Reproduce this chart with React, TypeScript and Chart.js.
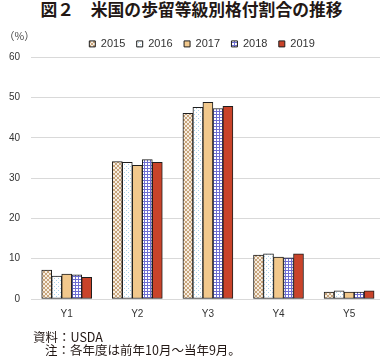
import React, { useEffect, useRef } from "react";
import { Chart, registerables } from "chart.js";

Chart.register(...registerables);

const categories = ["Y1", "Y2", "Y3", "Y4", "Y5"];
const years = ["2015", "2016", "2017", "2018", "2019"];
const s2015 = [7.2, 34.1, 46.1, 10.9, 1.7];
const s2016 = [5.7, 33.9, 47.6, 11.2, 2.0];
const s2017 = [6.2, 33.2, 48.8, 10.4, 1.7];
const s2018 = [6.0, 34.6, 47.3, 10.2, 1.7];
const s2019 = [5.4, 33.9, 47.8, 11.2, 2.0];

function makePattern(kind: string): CanvasPattern | string {
  const c = document.createElement("canvas");
  const ctx = c.getContext("2d");
  if (!ctx) return "#ccc";
  if (kind === "lattice") {
    c.width = 4;
    c.height = 4;
    ctx.fillStyle = "#F7EEE2";
    ctx.fillRect(0, 0, 4, 4);
    ctx.fillStyle = "#C8A57C";
    for (let i = 0; i < 4; i++) {
      ctx.fillRect(i, i, 1, 1);
      ctx.fillRect(3 - i, i, 1, 1);
    }
  } else if (kind === "dots") {
    c.width = 4;
    c.height = 4;
    ctx.fillStyle = "#FFFFFF";
    ctx.fillRect(0, 0, 4, 4);
    ctx.fillStyle = "#A9D2E8";
    ctx.fillRect(0, 0, 1, 1);
    ctx.fillRect(2, 2, 1, 1);
  } else if (kind === "grid") {
    c.width = 3;
    c.height = 3;
    ctx.fillStyle = "#FFFFFF";
    ctx.fillRect(0, 0, 3, 3);
    ctx.fillStyle = "#6E6ED2";
    ctx.fillRect(0, 0, 3, 1);
    ctx.fillRect(0, 0, 1, 3);
  } else {
    return kind;
  }
  return ctx.createPattern(c, "repeat") || "#ccc";
}

export default function App() {
  const ref = useRef<HTMLCanvasElement | null>(null);

  useEffect(() => {
    document.body.style.margin = "0";
    const canvas = ref.current;
    if (!canvas) return;
    const fills = [
      makePattern("lattice"),
      makePattern("dots"),
      "#F1C88C",
      makePattern("grid"),
      "#C9432A",
    ];
    const series = [s2015, s2016, s2017, s2018, s2019];
    const legendShift = {
      id: "legendShift",
      afterLayout(chart: any) {
        const lg = chart.legend;
        if (lg) {
          lg.left += 5.4;
          lg.right += 5.4;
        }
      },
    };
    const chart = new Chart(canvas, {
      type: "bar",
      data: {
        labels: categories,
        datasets: series.map((d, i) => ({
          label: years[i],
          data: d,
          backgroundColor: fills[i] as any,
          borderColor: "#1E1E1E",
          borderWidth: 1,
          borderSkipped: false,
          barThickness: 10,
        })),
      },
      plugins: [legendShift],
      options: {
        responsive: false,
        animation: false,
        devicePixelRatio: 1,
        layout: { padding: { left: 8.9, right: 19.6, top: 27, bottom: 5 } },
        plugins: {
          title: { display: false },
          tooltip: { enabled: false },
          legend: {
            position: "top",
            maxHeight: 30.3,
            labels: {
              boxWidth: 6,
              boxHeight: 6,
              padding: 11.4,
              color: "#333",
              font: { family: "'Liberation Sans', Arial, sans-serif", size: 11 },
            },
          },
        },
        scales: {
          x: {
            grid: { display: false, drawTicks: false },
            border: { display: false },
            ticks: {
              padding: 9,
              color: "#333",
              font: { family: "'Liberation Sans', Arial, sans-serif", size: 10 },
            },
          },
          y: {
            min: 0,
            max: 60,
            afterFit: (scale: any) => {
              scale.width = 22.5;
            },
            grid: { color: "#D9D9D9", drawTicks: false, lineWidth: 1 },
            border: { display: false },
            ticks: {
              stepSize: 10,
              padding: 11.4,
              color: "#333",
              font: { family: "'Liberation Sans', Arial, sans-serif", size: 10 },
            },
          },
        },
      },
    });
    return () => chart.destroy();
  }, []);

  const jp = "'Noto Sans CJK JP', 'Noto Sans', sans-serif";
  return (
    <div style={{ position: "relative", width: 380, height: 361, overflow: "hidden", background: "#fff" }}>
      <div
        style={{
          position: "absolute",
          left: 0,
          width: 383,
          top: -1,
          height: 20,
          lineHeight: "20px",
          textAlign: "center",
          fontFamily: jp,
          fontWeight: 700,
          fontSize: 16.8,
          color: "#231815",
          whiteSpace: "nowrap",
        }}
      >
        図２　米国の歩留等級別格付割合の推移
      </div>
      <canvas
        ref={ref}
        width={404}
        height={334}
        style={{ position: "absolute", left: 0, top: 0, width: 404, height: 334 }}
      />
      <div
        style={{
          position: "absolute",
          left: 4,
          top: 29,
          fontFamily: jp,
          fontSize: 10.5,
          lineHeight: "14px",
          color: "#444",
          whiteSpace: "nowrap",
        }}
      >
        （%）
      </div>
      <div
        style={{
          position: "absolute",
          left: 33,
          top: 330,
          fontFamily: jp,
          fontSize: 12.5,
          lineHeight: "14px",
          color: "#231815",
          whiteSpace: "nowrap",
        }}
      >
        資料：USDA
      </div>
      <div
        style={{
          position: "absolute",
          left: 45,
          top: 343,
          fontFamily: jp,
          fontSize: 12.5,
          lineHeight: "14px",
          color: "#231815",
          whiteSpace: "nowrap",
        }}
      >
        注：各年度は前年10月～当年9月。
      </div>
    </div>
  );
}
